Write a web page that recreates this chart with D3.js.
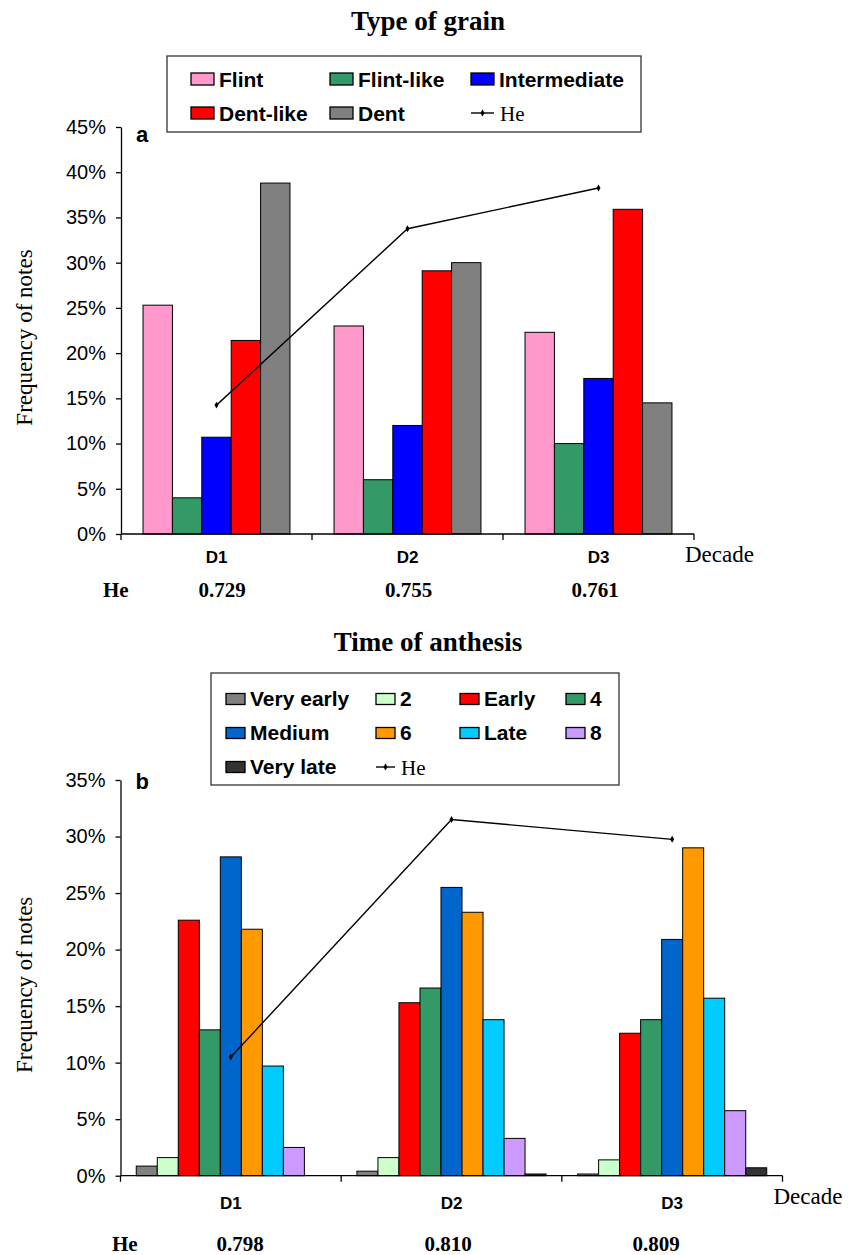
<!DOCTYPE html>
<html>
<head>
<meta charset="utf-8">
<script src="https://cdn.jsdelivr.net/npm/d3@7"></script>
<style>
  html, body { margin: 0; padding: 0; background: #fff; }
  svg { display: block; }
  .sans { font-family: "Liberation Sans", Arial, sans-serif; }
  .serif { font-family: "Liberation Serif", "Times New Roman", serif; }
</style>
</head>
<body>
<svg id="fig" width="849" height="1255"></svg>
<script>
// ---- Panel a: type of grain ----
const decades = ["D1", "D2", "D3"];
const grainTypes = ["Flint", "Flint-like", "Intermediate", "Dent-like", "Dent"];
const grainColors = ["#FF99CC", "#339966", "#0000FF", "#FF0000", "#808080"];
const flint = [25.3, 23.0, 22.3];
const flintLike = [4.0, 6.0, 10.0];
const intermediate = [10.7, 12.0, 17.2];
const dentLike = [21.4, 29.1, 35.9];
const dent = [38.8, 30.0, 14.5];
const heGrain = [0.729, 0.755, 0.761];
const grainTicks = [0, 5, 10, 15, 20, 25, 30, 35, 40, 45];
const heGrainAxis = [0.71, 0.77];

// ---- Panel b: time of anthesis ----
const anthesisClasses = ["Very early", "2", "Early", "4", "Medium", "6", "Late", "8", "Very late"];
const anthesisColors = ["#808080", "#CCFFCC", "#FF0000", "#339966", "#0066CC", "#FF9900", "#00CCFF", "#CC99FF", "#333333"];
const veryEarly = [0.85, 0.4, 0.15];
const class2 = [1.6, 1.6, 1.4];
const early = [22.6, 15.3, 12.6];
const class4 = [12.9, 16.6, 13.8];
const medium = [28.2, 25.5, 20.9];
const class6 = [21.8, 23.3, 29.0];
const late = [9.7, 13.8, 15.7];
const class8 = [2.5, 3.3, 5.75];
const veryLate = [0, 0.15, 0.7];
const heAnthesis = [0.798, 0.810, 0.809];
const anthesisTicks = [0, 5, 10, 15, 20, 25, 30, 35];
const heAnthesisAxis = [0.792, 0.812];

const svg = d3.select("#fig");

function drawPanel(cfg) {
  const g = svg.append("g");
  const x = d3.scaleBand().domain(decades).range([cfg.left, cfg.right]).padding(0);
  const xs = d3.scaleBand().domain(cfg.series).range([0, x.bandwidth()])
    .paddingInner(0).paddingOuter(0.75);
  const y = d3.scaleLinear().domain([0, d3.max(cfg.ticks)]).range([cfg.bottom, cfg.top]);
  const yHe = d3.scaleLinear().domain(cfg.heAxis).range([cfg.bottom, cfg.top]);
  const color = d3.scaleOrdinal().domain(cfg.series).range(cfg.colors);

  // title
  g.append("text").attr("class", "serif")
    .attr("x", cfg.titleX).attr("y", cfg.titleY)
    .attr("text-anchor", "middle").attr("font-weight", "bold").attr("font-size", 27)
    .text(cfg.title);

  // bars
  const rows = decades.map((d, i) => ({
    decade: d,
    vals: cfg.series.map((s, k) => ({ s, v: cfg.values[k][i] }))
  }));
  const grp = g.append("g").selectAll("g").data(rows).join("g")
    .attr("transform", d => `translate(${x(d.decade)},0)`);
  grp.selectAll("rect").data(d => d.vals.filter(e => e.v > 0)).join("rect")
    .attr("x", e => xs(e.s))
    .attr("y", e => y(e.v))
    .attr("width", xs.bandwidth())
    .attr("height", e => y(0) - y(e.v))
    .attr("fill", e => color(e.s))
    .attr("stroke", "#000").attr("stroke-width", 1);

  // He line on the secondary (hidden) scale
  const hePts = decades.map((d, i) => [x(d) + x.bandwidth() / 2, yHe(cfg.he[i])]);
  g.append("path").attr("d", d3.line()(hePts))
    .attr("fill", "none").attr("stroke", "#000").attr("stroke-width", 1.4);
  g.selectAll(".he-pt").data(hePts).join("path").attr("class", "he-pt")
    .attr("transform", p => `translate(${p[0]},${p[1]})`)
    .attr("d", d3.symbol(d3.symbolDiamond, 14)).attr("fill", "#000");

  // y axis
  const yAxis = g.append("g").attr("transform", `translate(${cfg.left},0)`)
    .call(d3.axisLeft(y).tickValues(cfg.ticks).tickFormat(d => d + "%").tickSize(5).tickSizeOuter(0));
  yAxis.select(".domain").attr("stroke", "#000").attr("stroke-width", 1.3);
  yAxis.selectAll(".tick line").attr("stroke", "#000").attr("stroke-width", 1.3);
  yAxis.selectAll(".tick text").attr("class", "sans").attr("font-size", 20)
    .attr("fill", "#000").attr("x", -15);

  // x axis with ticks at the category boundaries
  const bounds = decades.map(d => x(d)).concat([cfg.right]);
  g.append("line").attr("x1", cfg.left).attr("x2", cfg.right)
    .attr("y1", cfg.bottom).attr("y2", cfg.bottom)
    .attr("stroke", "#000").attr("stroke-width", 1.3);
  g.selectAll(".xt").data(bounds).join("line").attr("class", "xt")
    .attr("x1", d => d).attr("x2", d => d)
    .attr("y1", cfg.bottom).attr("y2", cfg.bottom + 6)
    .attr("stroke", "#000").attr("stroke-width", 1.3);
  g.selectAll(".xl").data(decades).join("text").attr("class", "xl sans")
    .attr("x", d => x(d) + x.bandwidth() / 2)
    .attr("y", cfg.bottom + cfg.catDy)
    .attr("text-anchor", "middle").attr("font-weight", "bold").attr("font-size", 17)
    .text(d => d);
  g.append("text").attr("class", "serif")
    .attr("x", cfg.right - 9).attr("y", cfg.bottom + 28)
    .attr("font-size", 23).text("Decade");

  // He values row
  const heX = d3.scalePoint().domain(decades).range(cfg.heRowRange);
  g.append("text").attr("class", "serif")
    .attr("x", cfg.heLabelX).attr("y", cfg.heRowY)
    .attr("font-weight", "bold").attr("font-size", 21).text("He");
  g.selectAll(".hev").data(decades).join("text").attr("class", "hev serif")
    .attr("x", d => heX(d)).attr("y", cfg.heRowY)
    .attr("text-anchor", "middle").attr("font-weight", "bold").attr("font-size", 21)
    .text((d, i) => cfg.he[i].toFixed(3));

  // axis title
  const midY = (cfg.top + cfg.bottom) / 2 + 7;
  g.append("text").attr("class", "serif")
    .attr("transform", `translate(32,${midY}) rotate(-90)`)
    .attr("text-anchor", "middle").attr("font-size", 23)
    .text("Frequency of notes");

  // panel letter
  g.append("text").attr("class", "sans")
    .attr("x", cfg.left + 15).attr("y", cfg.top + cfg.letterDy)
    .attr("font-weight", "bold").attr("font-size", 22).text(cfg.letter);

  // legend
  const lg = g.append("g");
  lg.append("rect").attr("x", cfg.legend.x).attr("y", cfg.legend.y)
    .attr("width", cfg.legend.w).attr("height", cfg.legend.h)
    .attr("fill", "#fff").attr("stroke", "#333").attr("stroke-width", 1.3);
  const items = cfg.series.map(s => ({ name: s, kind: "bar" })).concat([{ name: "He", kind: "line" }]);
  items.forEach((it, i) => {
    const col = i % cfg.legend.cols.length;
    const row = Math.floor(i / cfg.legend.cols.length);
    const sx = cfg.legend.cols[col];
    const sy = cfg.legend.rows[row];
    if (it.kind === "bar") {
      lg.append("rect").attr("x", sx).attr("y", sy)
        .attr("width", cfg.legend.sw).attr("height", cfg.legend.sh)
        .attr("fill", color(it.name)).attr("stroke", "#000").attr("stroke-width", 1.3);
      lg.append("text").attr("class", "sans")
        .attr("x", sx + cfg.legend.sw + 5).attr("y", sy + cfg.legend.sh + 1.5)
        .attr("font-weight", "bold").attr("font-size", cfg.legend.fs).text(it.name);
    } else {
      const ly = sy + cfg.legend.sh / 2;
      lg.append("line").attr("x1", sx).attr("x2", sx + cfg.legend.sw)
        .attr("y1", ly).attr("y2", ly).attr("stroke", "#000").attr("stroke-width", 1.4);
      lg.append("path").attr("transform", `translate(${sx + cfg.legend.sw / 2},${ly})`)
        .attr("d", d3.symbol(d3.symbolDiamond, 14)).attr("fill", "#000");
      lg.append("text").attr("class", "serif")
        .attr("x", sx + cfg.legend.sw + 6).attr("y", sy + cfg.legend.sh + 2)
        .attr("font-size", cfg.legend.fs).text(it.name);
    }
  });
}

drawPanel({
  title: "Type of grain", titleX: 428, titleY: 30,
  series: grainTypes, colors: grainColors,
  values: [flint, flintLike, intermediate, dentLike, dent],
  he: heGrain, heAxis: heGrainAxis, ticks: grainTicks,
  left: 121, right: 694, top: 127, bottom: 534,
  catDy: 29, heRowY: 597, heLabelX: 103, heRowRange: [222, 595],
  letter: "a", letterDy: 15,
  legend: { x: 167, y: 56, w: 474, h: 76, cols: [191, 330, 471], rows: [73, 107],
            sw: 23, sh: 12, fs: 21 }
});

drawPanel({
  title: "Time of anthesis", titleX: 428, titleY: 651,
  series: anthesisClasses, colors: anthesisColors,
  values: [veryEarly, class2, early, class4, medium, class6, late, class8, veryLate],
  he: heAnthesis, heAxis: heAnthesisAxis, ticks: anthesisTicks,
  left: 120.5, right: 782.5, top: 780, bottom: 1175.7,
  catDy: 33, heRowY: 1251, heLabelX: 112, heRowRange: [240, 656],
  letter: "b", letterDy: 9,
  legend: { x: 211, y: 673, w: 408, h: 112, cols: [226, 376, 460, 566], rows: [693.5, 727.5, 761.5],
            sw: 19, sh: 11, fs: 21 }
});
</script>
</body>
</html>
